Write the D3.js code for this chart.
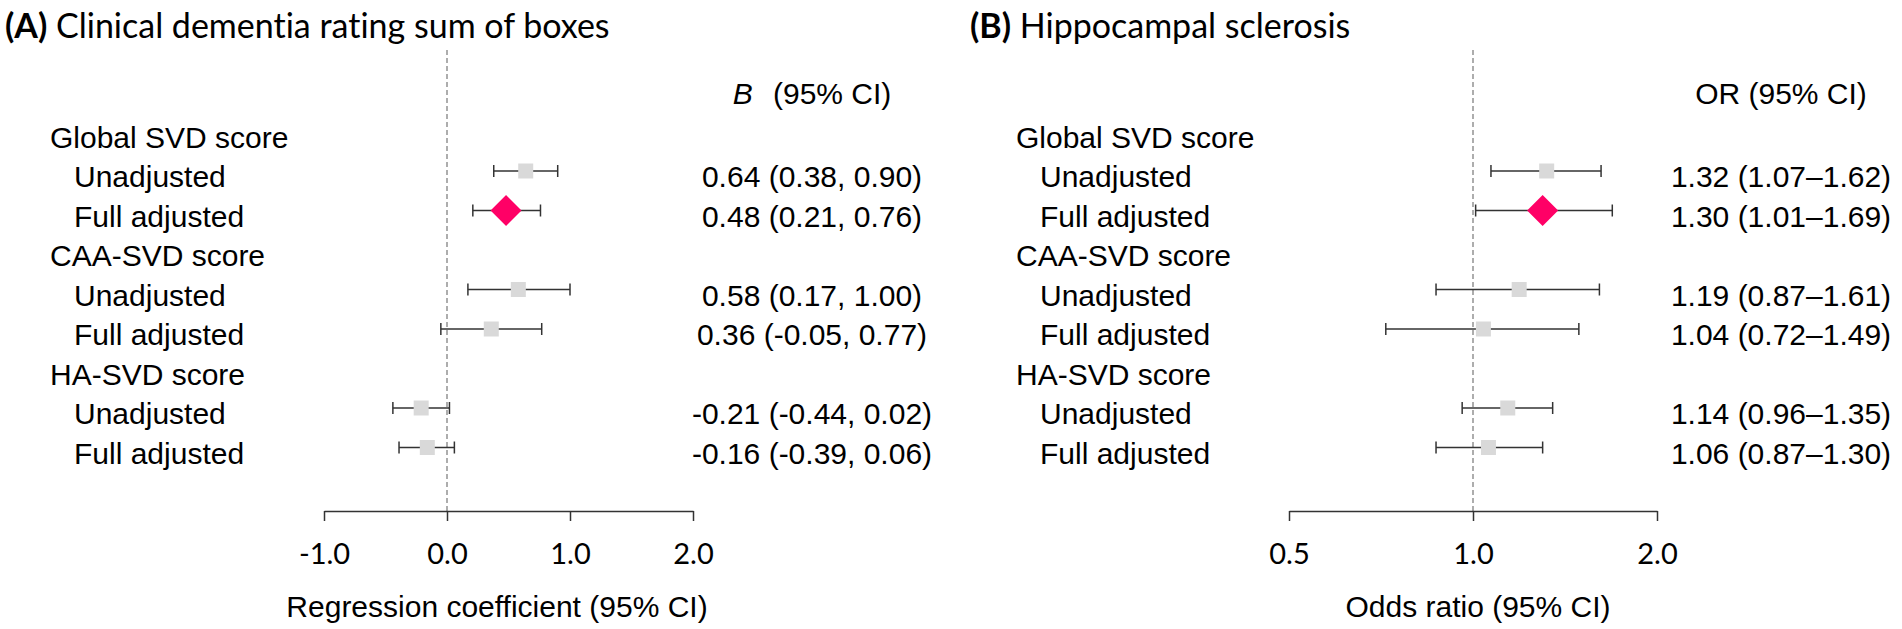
<!DOCTYPE html>
<html lang="en">
<head>
  <meta charset="UTF-8">
  <title>Forest plots</title>
  <style>
    body { margin: 0; background: #fff; }
    svg { display: block; }
    .lbl { font-family: "Liberation Sans", Arial, sans-serif; font-size: 30px; fill: #000; }
    .ttl { font-family: Lato, "Open Sans", sans-serif; font-size: 34px; fill: #000; font-variant-ligatures: none; }
    .tick text { font-family: Lato, sans-serif; font-size: 29px; fill: #000; }
    .tick line, .domain { stroke: #333; stroke-width: 1.5px; }
    .ci { stroke: #333; stroke-width: 1.5px; }
    .ref { stroke: #777; stroke-width: 1.2px; stroke-dasharray: 5,3; }
  </style>
</head>
<body>
  <svg id="chart" width="1902" height="629"></svg>
  <script src="https://cdn.jsdelivr.net/npm/d3@7/dist/d3.min.js"></script>
  <script>
    // rows, top to bottom
    const rowLabels = ["Global SVD score", "Unadjusted", "Full adjusted",
                       "CAA-SVD score", "Unadjusted", "Full adjusted",
                       "HA-SVD score", "Unadjusted", "Full adjusted"];
    const rowIsGroup = [true, false, false, true, false, false, true, false, false];

    // which row each estimate sits on
    const estRows = [1, 2, 4, 5, 7, 8];
    const markerType = ["square", "diamond", "square", "square", "square", "square"];

    // (A) regression coefficient B
    const estA = [0.64, 0.48, 0.58, 0.36, -0.21, -0.16];
    const lowA = [0.38, 0.21, 0.17, -0.05, -0.44, -0.39];
    const highA = [0.90, 0.76, 1.00, 0.77, 0.02, 0.06];
    const ticksA = [-1, 0, 1, 2];

    // (B) odds ratio
    const estB = [1.32, 1.30, 1.19, 1.04, 1.14, 1.06];
    const lowB = [1.07, 1.01, 0.87, 0.72, 0.96, 0.87];
    const highB = [1.62, 1.69, 1.61, 1.49, 1.35, 1.30];
    const ticksB = [0.5, 1, 2];

    const svg = d3.select("#chart");

    const y = d3.scaleLinear().domain([0, 8]).range([137, 453]);
    const markerDy = -5.5;
    const axisY = 511;

    function panel(opt) {
      const g = svg.append("g");
      const x = opt.x;

      // title
      const t = g.append("text").attr("class", "ttl")
        .attr("x", opt.titleX).attr("y", 38);
      t.append("tspan").attr("font-weight", "bold").text(opt.tag);
      t.append("tspan").text(" " + opt.title);

      // reference line
      g.append("line").attr("class", "ref")
        .attr("x1", x(opt.refValue)).attr("x2", x(opt.refValue))
        .attr("y1", 50).attr("y2", axisY);

      // row labels
      g.selectAll("text.row")
        .data(rowLabels)
        .join("text")
        .attr("class", "lbl row")
        .attr("x", (d, i) => opt.labelX + (rowIsGroup[i] ? 0 : 24))
        .attr("y", (d, i) => y(i) + 10.5)
        .text(d => d);

      // column header
      const h = g.append("text").attr("class", "lbl")
        .attr("x", opt.colX).attr("y", 104).attr("text-anchor", "middle");
      if (opt.tag === "(A)") {
        h.append("tspan").attr("font-style", "italic").text("B");
        h.append("tspan").attr("dx", 12).text("\u00a0(95% CI)");
      } else {
        h.text("OR (95% CI)");
      }

      const rows = opt.est.map((e, i) => ({
        e, lo: opt.low[i], hi: opt.high[i], row: estRows[i], type: markerType[i]
      }));

      // CI whiskers
      const ci = g.append("g");
      rows.forEach(d => {
        const yy = y(d.row) + markerDy;
        ci.append("line").attr("class", "ci")
          .attr("x1", x(d.lo)).attr("x2", x(d.hi)).attr("y1", yy).attr("y2", yy);
        [d.lo, d.hi].forEach(v => {
          ci.append("line").attr("class", "ci")
            .attr("x1", x(v)).attr("x2", x(v)).attr("y1", yy - 6).attr("y2", yy + 6);
        });
      });

      // markers
      g.selectAll("path.mk")
        .data(rows)
        .join("path")
        .attr("class", "mk")
        .attr("transform", d => `translate(${x(d.e)},${y(d.row) + markerDy})`)
        .attr("d", d => d.type === "diamond"
          ? "M0,-15.5L15.5,0L0,15.5L-15.5,0Z"
          : "M-7.5,-7.5H7.5V7.5H-7.5Z")
        .attr("fill", d => d.type === "diamond" ? "#ff0066" : "#d9d9d9");

      // estimate text
      g.selectAll("text.val")
        .data(rows)
        .join("text")
        .attr("class", "lbl val")
        .attr("x", opt.colX)
        .attr("y", d => y(d.row) + 10.5)
        .attr("text-anchor", "middle")
        .text(opt.fmt);

      // axis
      const ax = g.append("g")
        .attr("transform", `translate(0,${axisY})`)
        .call(d3.axisBottom(x)
          .tickValues(opt.ticks)
          .tickFormat(d => d.toFixed(1))
          .tickSize(10)
          .tickSizeOuter(0)
          .tickPadding(22));
      ax.selectAll(".tick text").attr("dy", "0.71em");

      g.append("text").attr("class", "lbl")
        .attr("x", opt.axisTitleX).attr("y", 617)
        .attr("text-anchor", "middle")
        .text(opt.axisTitle);
    }

    panel({
      tag: "(A)", title: "Clinical dementia rating sum of boxes", titleX: 5,
      x: d3.scaleLinear().domain([-1, 2]).range([324, 693]),
      refValue: 0, ticks: ticksA, labelX: 50, colX: 812,
      est: estA, low: lowA, high: highA,
      fmt: d => `${d.e.toFixed(2)} (${d.lo.toFixed(2)}, ${d.hi.toFixed(2)})`,
      axisTitle: "Regression coefficient (95% CI)", axisTitleX: 497
    });

    panel({
      tag: "(B)", title: "Hippocampal sclerosis", titleX: 970,
      x: d3.scaleLog().domain([0.5, 2]).range([1289, 1657]),
      refValue: 1, ticks: ticksB, labelX: 1016, colX: 1781,
      est: estB, low: lowB, high: highB,
      fmt: d => `${d.e.toFixed(2)} (${d.lo.toFixed(2)}\u2013${d.hi.toFixed(2)})`,
      axisTitle: "Odds ratio (95% CI)", axisTitleX: 1478
    });
  </script>
</body>
</html>
